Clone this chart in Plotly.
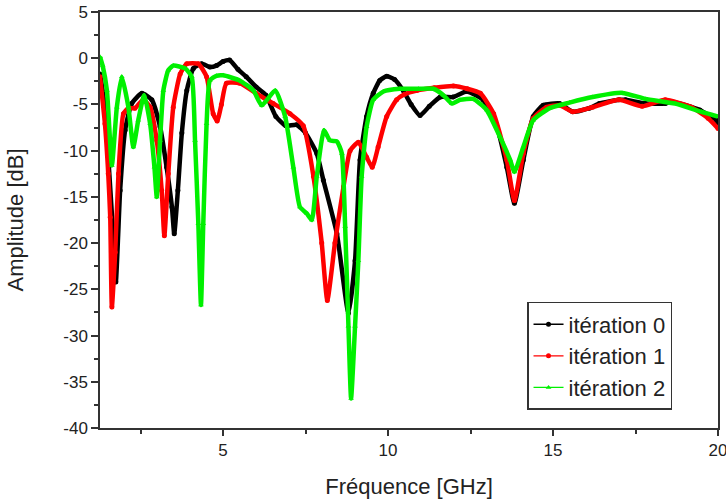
import plotly.graph_objects as go

# ---- data ----
freq_it0 = [1.27,1.42,1.52,1.68,1.75,1.88,2.03,2.23,2.54,2.84,3.09,3.29,3.45,3.52,3.63,3.75,3.9,4.1,4.35,4.6,4.8,5.0,5.2,5.45,5.7,6.0,6.3,6.6,6.9,7.23,7.5,7.84,8.04,8.45,8.8,9.0,9.15,9.35,9.55,9.75,9.96,10.2,10.46,10.7,10.97,11.25,11.58,11.97,12.38,12.88,13.3,13.6,13.83,14.1,14.4,14.7,15.2,15.6,16.1,16.4,17.0,17.2,17.8,18.4,18.6,19.45,19.95,20.0]
amp_it0 = [-1.7,-5.3,-10.7,-19.7,-24.2,-14.3,-7.8,-4.9,-3.8,-4.5,-7.4,-11.8,-16.1,-19.0,-14.3,-8.1,-3.5,-1.1,-0.6,-0.95,-0.8,-0.35,-0.2,-1.2,-2.0,-3.1,-4.0,-6.3,-7.3,-7.2,-8.1,-10.3,-13.2,-19.0,-27.6,-21.9,-11.0,-6.3,-3.8,-2.4,-1.95,-2.3,-3.5,-5.0,-6.2,-5.2,-4.2,-4.2,-3.6,-4.5,-7.4,-11.8,-15.7,-11.0,-6.3,-5.1,-4.9,-5.8,-5.4,-4.9,-4.5,-4.5,-4.9,-4.9,-4.7,-5.6,-6.7,-7.0]

freq_it1 = [1.27,1.42,1.52,1.58,1.63,1.73,1.83,1.98,2.13,2.33,2.58,2.79,2.99,3.14,3.22,3.34,3.49,3.7,3.9,4.25,4.5,4.7,4.82,4.95,5.1,5.5,6.0,6.52,7.03,7.43,7.74,7.99,8.16,8.39,8.65,8.85,9.1,9.35,9.52,9.7,9.96,10.26,10.5,10.87,11.4,11.98,12.4,12.8,13.2,13.6,13.83,14.1,14.4,14.8,15.2,15.6,16.2,17.0,17.7,18.4,19.2,19.7,20.0]
amp_it1 = [-2.0,-7.1,-12.5,-17.2,-26.9,-21.0,-12.5,-6.0,-5.4,-5.4,-4.5,-5.3,-8.9,-14.3,-19.2,-12.5,-5.3,-1.7,-0.6,-0.6,-2.0,-6.0,-6.8,-5.0,-2.7,-2.7,-3.8,-4.9,-6.0,-7.3,-12.8,-20.0,-26.2,-20.0,-13.9,-10.0,-9.1,-10.7,-11.8,-9.6,-6.3,-4.5,-3.9,-3.5,-3.2,-3.0,-3.3,-3.8,-6.0,-11.0,-15.4,-10.3,-6.5,-5.3,-5.1,-5.8,-5.3,-4.5,-5.2,-4.5,-5.3,-6.5,-7.6]

freq_it2 = [1.27,1.35,1.48,1.63,1.78,1.93,2.13,2.28,2.43,2.61,2.79,2.92,2.99,3.09,3.19,3.34,3.49,3.85,4.05,4.15,4.25,4.33,4.4,4.5,4.6,4.8,5.0,5.5,5.92,6.17,6.58,6.88,7.13,7.33,7.54,7.69,7.84,8.06,8.24,8.45,8.6,8.7,8.8,8.88,9.0,9.1,9.2,9.35,9.55,9.86,10.36,10.92,11.37,11.68,11.93,12.18,12.58,12.99,13.39,13.7,13.83,14.1,14.4,14.9,15.5,16.2,17.1,17.8,18.7,19.5,20.0]
amp_it2 = [0.15,-0.8,-3.5,-11.6,-5.3,-2.0,-5.3,-9.6,-6.7,-4.0,-7.1,-11.8,-15.0,-8.9,-3.5,-1.3,-0.8,-1.1,-2.0,-8.9,-17.9,-26.7,-17.9,-7.1,-2.4,-1.9,-1.85,-2.4,-3.5,-5.1,-3.5,-6.3,-11.8,-16.1,-16.8,-17.5,-12.8,-7.8,-8.9,-9.0,-10.3,-18.2,-29.0,-36.8,-29.0,-21.9,-12.8,-7.4,-4.5,-3.6,-3.3,-3.3,-3.3,-4.0,-4.9,-4.5,-4.4,-5.6,-8.5,-11.0,-12.3,-9.6,-6.7,-5.4,-4.8,-4.2,-3.75,-4.4,-4.9,-5.8,-6.3]

series_names = ["itération 0", "itération 1", "itération 2"]

x_tickvals = [5, 10, 15, 20]
x_ticktext = ["5", "10", "15", "20"]
x_minor = [2.5, 7.5, 12.5, 17.5]
y_tickvals = [5, 0, -5, -10, -15, -20, -25, -30, -35, -40]
y_ticktext = ["5", "0", "-5", "-10", "-15", "-20", "-25", "-30", "-35", "-40"]
y_minor = [2.5, -2.5, -7.5, -12.5, -17.5, -22.5, -27.5, -32.5, -37.5]

colors = ["#000000", "#ff0000", "#00f000"]
symbols = ["circle", "circle", "triangle-up"]

FONT = "Liberation Sans, Arial, sans-serif"

fig = go.Figure()
data = [(freq_it0, amp_it0), (freq_it1, amp_it1), (freq_it2, amp_it2)]
for (fx, fy), name, c, s in zip(data, series_names, colors, symbols):
    fig.add_trace(go.Scatter(
        x=fx, y=fy, mode="lines+markers", name=name, showlegend=False,
        line=dict(color=c, width=4.5, shape="spline", smoothing=0.5),
        marker=dict(color=c, size=5, symbol=s),
    ))
# legend-only entries with thin lines
for name, c, s in zip(series_names, colors, symbols):
    fig.add_trace(go.Scatter(
        x=[None], y=[None], mode="lines+markers", name=name,
        line=dict(color=c, width=1.3), marker=dict(color=c, size=5, symbol=s),
    ))

axis_common = dict(
    showgrid=False, zeroline=False, showline=True, mirror=True,
    linecolor="#333333", linewidth=1.5, ticks="outside", tickcolor="#333333",
    tickwidth=1.5, tickfont=dict(family=FONT, size=17, color="#222222"),
    automargin=False, ticklabeloverflow="allow",
)

fig.update_xaxes(
    range=[1.27, 20.0], tickmode="array", tickvals=x_tickvals, ticktext=x_ticktext,
    ticklen=6,
    minor=dict(tickmode="array", tickvals=x_minor, ticks="outside", ticklen=4,
               tickcolor="#333333", tickwidth=1.5),
    title=dict(text="Fréquence [GHz]", font=dict(family=FONT, size=22, color="#222222"),
               standoff=22),
    **axis_common,
)
fig.update_yaxes(
    range=[-40, 5], tickmode="array", tickvals=y_tickvals, ticktext=y_ticktext,
    ticklen=7,
    minor=dict(tickmode="array", tickvals=y_minor, ticks="outside", ticklen=4,
               tickcolor="#333333", tickwidth=1.5),
    title=dict(text="Amplitude [dB]", font=dict(family=FONT, size=22, color="#222222"),
               standoff=34),
    **axis_common,
)

fig.update_layout(
    width=726, height=499,
    margin=dict(l=100, r=8, t=12, b=71),
    paper_bgcolor="white", plot_bgcolor="white",
    legend=dict(
        x=0.9256, y=0.303, xanchor="right", yanchor="top",
        bgcolor="white", bordercolor="#333333", borderwidth=1.5,
        font=dict(family=FONT, size=22, color="#222222"),
        tracegroupgap=0,
    ),
)

fig.write_html("out.html")
